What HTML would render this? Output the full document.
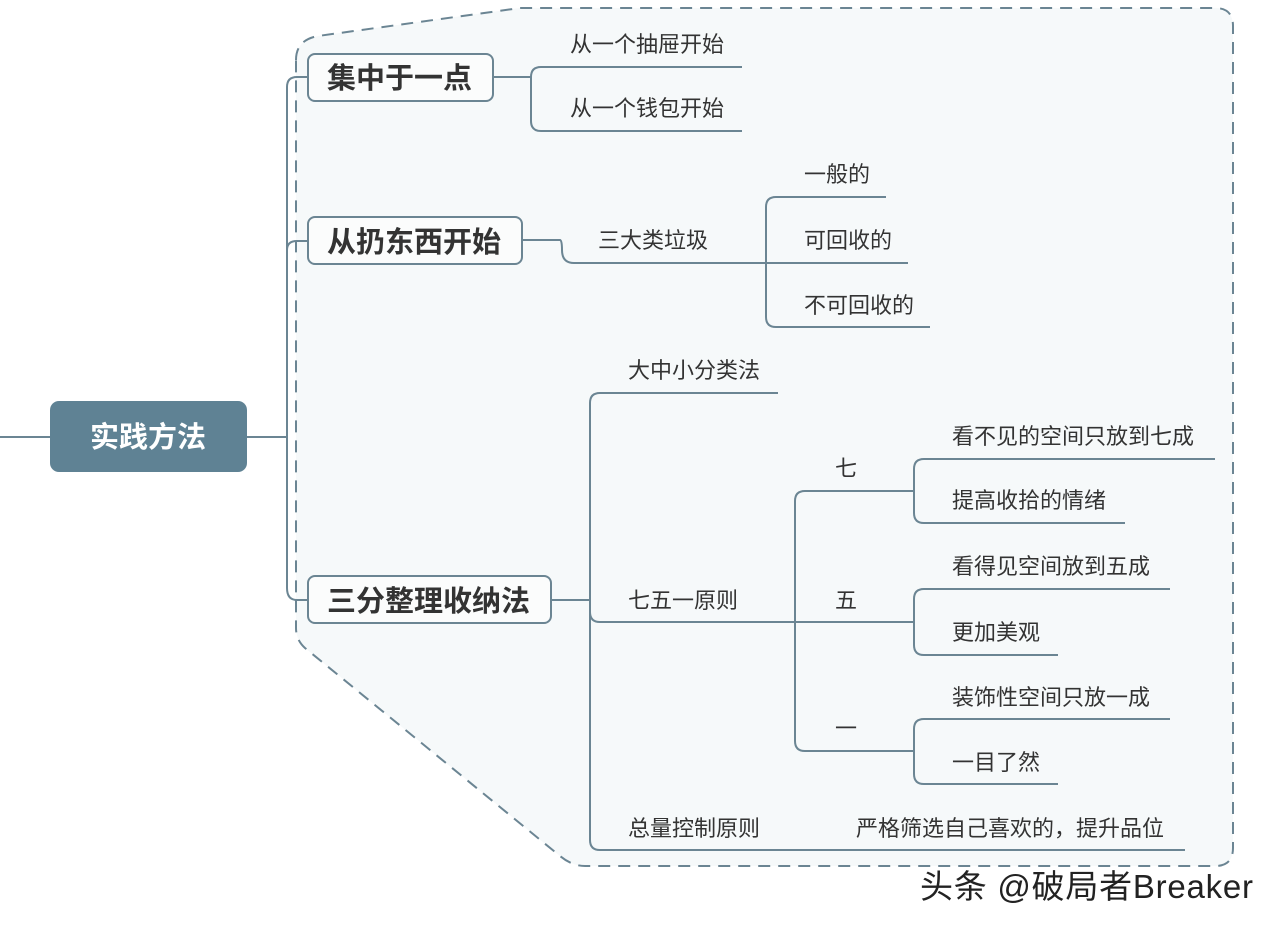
<!DOCTYPE html>
<html><head><meta charset="utf-8"><style>
html,body{margin:0;padding:0;background:#fff;}
svg text{font-family:"Liberation Sans","Noto Sans CJK SC",sans-serif;}
</style></head><body>
<svg width="1280" height="930" viewBox="0 0 1280 930" xmlns="http://www.w3.org/2000/svg">
<path d="M296 60 Q296 40 318 36 L520 8 L1215 8 Q1233 8 1233 26 L1233 848 Q1233 866 1215 866 L585 866 Q572 866 560 856 L305 648 Q296 640 296 628 Z" fill="#f6f9fa" stroke="#6b8593" stroke-width="2" stroke-dasharray="12,8"/>
<g fill="none" stroke="#6b8593" stroke-width="2">
<path d="M0 437 L50 437 M247 437 L287 437"/>
<path d="M308 77 L297 77 Q287 77 287 87 L287 588 Q287 600 297 600 L308 600"/>
<path d="M287 250 Q287 241 297 241 L308 241"/>
<path d="M493 77 L531 77 M742 67 L541 67 Q531 67 531 77 L531 121 Q531 131 541 131 L742 131"/>
<path d="M522 240 L560 240 Q562 240 562 250 Q562 263 574 263 L766 263"/>
<path d="M886 197 L776 197 Q766 197 766 207 L766 317 Q766 327 776 327 L930 327 M766 263 L908 263"/>
<path d="M551 600 L590 600 M778 393 L600 393 Q590 393 590 403 L590 840 Q590 850 600 850 L1185 850 M590 612 Q590 622 600 622 L914 622"/>
<path d="M914 491 L805 491 Q795 491 795 501 L795 741 Q795 751 805 751 L914 751"/>
<path d="M1215 459 L924 459 Q914 459 914 469 L914 513 Q914 523 924 523 L1125 523"/>
<path d="M1170 589 L924 589 Q914 589 914 599 L914 645 Q914 655 924 655 L1058 655"/>
<path d="M1170 719 L924 719 Q914 719 914 729 L914 774 Q914 784 924 784 L1058 784"/>
</g>
<rect x="50" y="401" width="197" height="71" rx="9" fill="#5f8294"/>
<text x="148" y="447" font-size="29" font-weight="bold" fill="#fff" text-anchor="middle">实践方法</text>
<g fill="#fbfcfc" stroke="#6b8593" stroke-width="2">
<rect x="308" y="54" width="185" height="47" rx="7"/>
<rect x="308" y="217" width="214" height="47" rx="7"/>
<rect x="308" y="576" width="243" height="47" rx="7"/>
</g>
<g font-size="29" font-weight="bold" fill="#333">
<text x="327" y="88">集中于一点</text>
<text x="327" y="252">从扔东西开始</text>
<text x="327" y="611">三分整理收纳法</text>
</g>
<g font-size="22" fill="#333">
<text x="570" y="52">从一个抽屉开始</text>
<text x="570" y="116">从一个钱包开始</text>
<text x="598" y="248">三大类垃圾</text>
<text x="804" y="182">一般的</text>
<text x="804" y="248">可回收的</text>
<text x="804" y="313">不可回收的</text>
<text x="628" y="378">大中小分类法</text>
<text x="628" y="608">七五一原则</text>
<text x="628" y="836">总量控制原则</text>
<text x="856" y="836">严格筛选自己喜欢的，提升品位</text>
<text x="835" y="476">七</text>
<text x="835" y="608">五</text>
<text x="835" y="736">一</text>
<text x="952" y="444">看不见的空间只放到七成</text>
<text x="952" y="508">提高收拾的情绪</text>
<text x="952" y="574">看得见空间放到五成</text>
<text x="952" y="640">更加美观</text>
<text x="952" y="705">装饰性空间只放一成</text>
<text x="952" y="770">一目了然</text>
</g>
<text x="920" y="898" font-size="33" fill="#222" stroke="#fff" stroke-width="3" paint-order="stroke" textLength="333">头条 @破局者Breaker</text>
</svg>
</body></html>
